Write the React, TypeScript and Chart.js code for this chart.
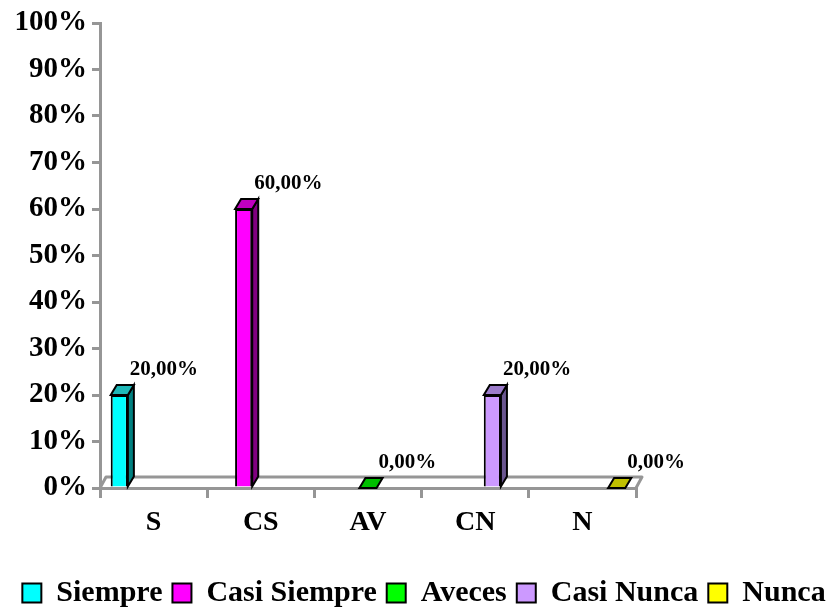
import React, { useEffect, useRef } from "react";
import { Chart, registerables } from "chart.js";

Chart.register(...registerables);

const categories = ["S", "CS", "AV", "CN", "N"];
const seriesNames = ["Siempre", "Casi Siempre", "Aveces", "Casi Nunca", "Nunca"];
const seriesValues = [0.2, 0.6, 0.0, 0.2, 0.0];

const frontColors = ["#00FFFF", "#FF00FF", "#00FF00", "#CC99FF", "#FFFF00"];
const topColors = ["#1FB8B8", "#C000C0", "#00C000", "#9C7CCB", "#C0C000"];
const sideColors = ["#008080", "#800080", "#008000", "#6A5690", "#808000"];

const FONT = "'Liberation Serif', 'Times New Roman', serif";
const GRAY = "#969696";
const DX = 6;
const DY = 10;
const FDX = 6;
const FDY = 11;

function fmt(v: number) {
  return (v * 100).toFixed(2).replace(".", ",") + "%";
}

const threeD = {
  id: "threeD",
  beforeDatasetsDraw(chart: any) {
    const { ctx, chartArea: a } = chart;
    ctx.save();
    ctx.strokeStyle = GRAY;
    ctx.lineWidth = 3;
    ctx.lineJoin = "round";
    ctx.lineCap = "round";
    ctx.beginPath();
    ctx.moveTo(a.left, a.bottom);
    ctx.lineTo(a.left + FDX, a.bottom - FDY);
    ctx.lineTo(a.right + FDX, a.bottom - FDY);
    ctx.lineTo(a.right, a.bottom);
    ctx.stroke();
    ctx.restore();
  },
  afterDatasetsDraw(chart: any) {
    const { ctx } = chart;
    const poly = (pts: number[][], fill: string) => {
      ctx.beginPath();
      ctx.moveTo(pts[0][0], pts[0][1]);
      for (let k = 1; k < pts.length; k++) ctx.lineTo(pts[k][0], pts[k][1]);
      ctx.closePath();
      ctx.fillStyle = fill;
      ctx.fill();
      ctx.stroke();
    };
    ctx.save();
    ctx.strokeStyle = "#000";
    ctx.lineWidth = 2;
    ctx.lineJoin = "miter";
    chart.data.datasets.forEach((ds: any, i: number) => {
      const meta = chart.getDatasetMeta(i);
      if (meta.yAxisID !== "y") return;
      meta.data.forEach((bar: any, j: number) => {
        const v = ds.data[j];
        if (v == null) return;
        const { x, y, base, width } = bar.getProps(["x", "y", "base", "width"], true);
        const l = x - width / 2;
        const r = x + width / 2;
        if (base - y > 1) {
          poly([[r, y], [r + DX, y - DY], [r + DX, base - DY], [r, base]], sideColors[i]);
        }
        poly([[l, y], [l + DX, y - DY], [r + DX, y - DY], [r, y]], topColors[i]);
        ctx.fillStyle = "#000";
        ctx.font = `bold 21px ${FONT}`;
        ctx.textAlign = "left";
        ctx.textBaseline = "middle";
        ctx.fillText(fmt(v), r + 2, y - 25);
      });
    });
    ctx.restore();
  },
};

export default function App() {
  const ref = useRef<HTMLCanvasElement>(null);
  useEffect(() => {
    if (!ref.current) return;
    const datasets = seriesNames.map((name, i) => ({
      label: name,
      data: categories.map((_, j) => (j === i ? seriesValues[i] : null)),
      backgroundColor: frontColors[i],
      borderColor: "#000",
      borderWidth: 2,
      categoryPercentage: 0.8,
      barPercentage: 1.0,
      yAxisID: "y",
    }));
    const chart = new Chart(ref.current, {
      type: "bar",
      data: { labels: categories, datasets },
      options: {
        animation: false,
        responsive: false,
        devicePixelRatio: 1,
        layout: { padding: { top: 23, right: 0, left: 8, bottom: 0 } },
        plugins: {
          legend: {
            position: "bottom",
            labels: {
              font: { family: FONT, size: 30, weight: "bold" },
              color: "#000",
              boxWidth: 19,
              boxHeight: 19,
              padding: 10,
            },
          },
          tooltip: { enabled: false },
        },
        scales: {
          x: {
            grid: {
              display: true,
              drawOnChartArea: false,
              drawTicks: true,
              tickLength: 10,
              color: GRAY,
              lineWidth: 3,
              offset: true,
            },
            border: { display: true, color: GRAY, width: 3 },
            ticks: { font: { family: FONT, size: 28, weight: "bold" }, color: "#000", padding: 8 },
            afterFit: (s: any) => {
              s.height = 80;
            },
          },
          y: {
            min: 0,
            max: 1,
            grid: {
              display: true,
              drawOnChartArea: false,
              drawTicks: true,
              tickLength: 8,
              color: GRAY,
              lineWidth: 3,
            },
            border: { display: true, color: GRAY, width: 3 },
            ticks: {
              stepSize: 0.1,
              font: { family: FONT, size: 29, weight: "bold" },
              color: "#000",
              padding: 5,
              callback: (v: any) => Math.round(Number(v) * 100) + "%",
            },
            afterFit: (s: any) => {
              s.width = 92;
            },
          },
          yRight: {
            position: "right",
            min: 0,
            max: 1,
            grid: { display: false },
            border: { display: false },
            ticks: { display: false },
            afterFit: (s: any) => {
              s.width = 204;
            },
          },
        },
      },
      plugins: [threeD],
    });
    return () => chart.destroy();
  }, []);
  return (
    <div style={{ position: "absolute", left: 0, top: 0, width: 840, height: 611, overflow: "hidden", background: "#fff" }}>
      <canvas ref={ref} width={840} height={618} style={{ display: "block" }} />
    </div>
  );
}
